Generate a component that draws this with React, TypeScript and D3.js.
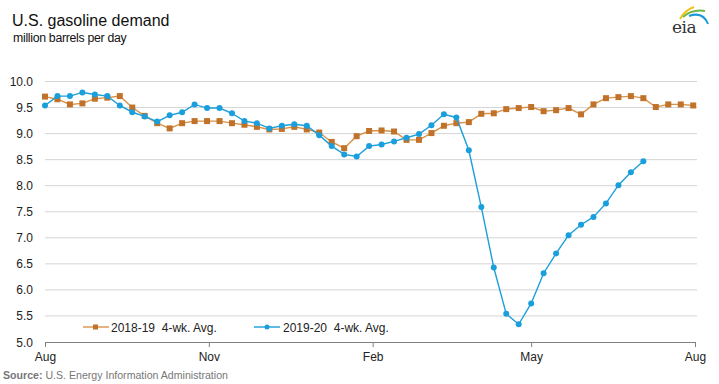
import React, { useEffect, useRef } from 'react'
import * as d3 from 'd3'

// weekly 4-week averages, million barrels per day, starting first week of Aug
const series1819: number[] = [
  9.71, 9.66, 9.56, 9.58, 9.67, 9.69, 9.72, 9.5, 9.34, 9.2, 9.1, 9.2, 9.24, 9.24,
  9.24, 9.2, 9.17, 9.13, 9.08, 9.09, 9.13, 9.08, 9.02, 8.84, 8.72, 8.95, 9.05,
  9.06, 9.04, 8.88, 8.88, 9.01, 9.15, 9.2, 9.22, 9.38, 9.39, 9.47, 9.49, 9.51,
  9.43, 9.45, 9.49, 9.37, 9.56, 9.68, 9.7, 9.72, 9.68, 9.51, 9.56, 9.56, 9.54,
]
const series1920: number[] = [
  9.54, 9.72, 9.72, 9.79, 9.75, 9.72, 9.54, 9.41, 9.33, 9.23, 9.35, 9.41, 9.56,
  9.49, 9.49, 9.39, 9.24, 9.2, 9.1, 9.15, 9.18, 9.15, 8.97, 8.76, 8.6, 8.56,
  8.76, 8.79, 8.85, 8.92, 8.99, 9.16, 9.37, 9.31, 8.68, 7.59, 6.43, 5.54, 5.34,
  5.74, 6.32, 6.7, 7.05, 7.25, 7.4, 7.66, 8.01, 8.26, 8.47,
]
const seriesNames = ['2018-19  4-wk. Avg.', '2019-20  4-wk. Avg.']
const yTicks = [5.0, 5.5, 6.0, 6.5, 7.0, 7.5, 8.0, 8.5, 9.0, 9.5, 10.0]
const xTicks = [new Date(2018, 7, 1), new Date(2018, 10, 1), new Date(2019, 1, 1), new Date(2019, 4, 1), new Date(2019, 7, 1)]
const startDate = new Date(2018, 7, 1)
const endDate = new Date(2019, 7, 1)

const ORANGE = '#c0722a'
const ORANGE_LINE = '#d8924a'
const BLUE = '#1a9fdc'
const FONT = '"Liberation Sans", Arial, sans-serif'

export default function App() {
  const ref = useRef<SVGGElement>(null)

  useEffect(() => {
    const svg = d3.select(ref.current)
    svg.selectAll('*').remove()

    const x = d3.scaleTime().domain([startDate, endDate]).range([45, 695])
    const y = d3.scaleLinear().domain([5, 10]).range([342, 81.5])
    const weekDate = (i: number) => d3.timeDay.offset(startDate, i * 7)

    // gridlines
    svg.append('g')
      .selectAll('line')
      .data(yTicks.filter(t => t > 5))
      .join('line')
      .attr('x1', 45).attr('x2', 697)
      .attr('y1', d => y(d)).attr('y2', d => y(d))
      .attr('stroke', '#d4d4d4').attr('stroke-width', 1)

    // y labels
    svg.append('g')
      .selectAll('text')
      .data(yTicks)
      .join('text')
      .attr('x', 33).attr('y', d => y(d) + 4.5)
      .attr('text-anchor', 'end')
      .attr('font-family', FONT).attr('font-size', 12).attr('fill', '#222')
      .text(d => d3.format('.1f')(d))

    // x axis
    const xAxis = d3.axisBottom(x)
      .tickValues(xTicks)
      .tickFormat(d3.timeFormat('%b') as any)
      .tickSize(5)
      .tickPadding(5)
    const gx = svg.append('g').attr('transform', 'translate(0,342)').call(xAxis)
    gx.select('.domain').attr('stroke', '#808080').attr('d', 'M45,0.5H695')
    gx.selectAll('.tick line').attr('stroke', '#808080')
    gx.selectAll('.tick text')
      .attr('font-family', FONT).attr('font-size', 12).attr('fill', '#222')

    const line = d3.line<number>()
      .x((_, i) => x(weekDate(i)))
      .y(d => y(d))

    // 2018-19
    svg.append('path').datum(series1819)
      .attr('d', line).attr('fill', 'none')
      .attr('stroke', ORANGE_LINE).attr('stroke-width', 1.4)
    svg.append('g').selectAll('rect').data(series1819).join('rect')
      .attr('x', (_, i) => x(weekDate(i)) - 3)
      .attr('y', d => y(d) - 3)
      .attr('width', 6).attr('height', 6)
      .attr('fill', ORANGE)

    // 2019-20
    svg.append('path').datum(series1920)
      .attr('d', line).attr('fill', 'none')
      .attr('stroke', BLUE).attr('stroke-width', 1.4)
    svg.append('g').selectAll('circle').data(series1920).join('circle')
      .attr('cx', (_, i) => x(weekDate(i)))
      .attr('cy', d => y(d))
      .attr('r', 3)
      .attr('fill', BLUE)

    // legend
    const lg = svg.append('g').attr('font-family', FONT).attr('font-size', 12).attr('fill', '#222')
    const items = [
      { x0: 83, color: ORANGE, lc: ORANGE_LINE, square: true, tx: 111 },
      { x0: 254, color: BLUE, lc: BLUE, square: false, tx: 283 },
    ]
    items.forEach((it, i) => {
      lg.append('line').attr('x1', it.x0).attr('x2', it.x0 + 26)
        .attr('y1', 327).attr('y2', 327).attr('stroke', it.lc).attr('stroke-width', 1.4)
      if (it.square) {
        lg.append('rect').attr('x', it.x0 + 10).attr('y', 324.5).attr('width', 5).attr('height', 5).attr('fill', it.color)
      } else {
        lg.append('circle').attr('cx', it.x0 + 13).attr('cy', 327).attr('r', 2.5).attr('fill', it.color)
      }
      lg.append('text').attr('x', it.tx).attr('y', 331.5)
        .style('white-space', 'pre').text(seriesNames[i])
    })
  }, [])

  return (
    <svg width={719} height={384} viewBox="0 0 719 384"
      style={{ position: 'absolute', left: 0, top: 0, background: '#fff' }}>
      <text x={12} y={26} fontFamily={FONT} fontSize={16} fill="#111">U.S. gasoline demand</text>
      <text x={13} y={42} fontFamily={FONT} fontSize={12.3} fill="#111" letterSpacing={-0.3}>million barrels per day</text>
      <text x={3} y={378.5} fontFamily={FONT} fontSize={10.6} fill="#777">
        <tspan fontWeight="bold">Source:</tspan> U.S. Energy Information Administration
      </text>
      {/* eia logo */}
      <g>
        <path d="M680,19 Q685,10 694,7" fill="none" stroke="#f2c21b" strokeWidth={2} />
        <path d="M683,17 Q692,9 705,11" fill="none" stroke="#6bb744" strokeWidth={2} />
        <path d="M689,16 Q703,11 708,24" fill="none" stroke="#1b9ad6" strokeWidth={2} />
        <text x={672} y={33} fontFamily='"DejaVu Serif", "Liberation Serif", serif' fontSize={17} fill="#333" letterSpacing={-0.5}>eia</text>
      </g>
      <g ref={ref} />
    </svg>
  )
}
